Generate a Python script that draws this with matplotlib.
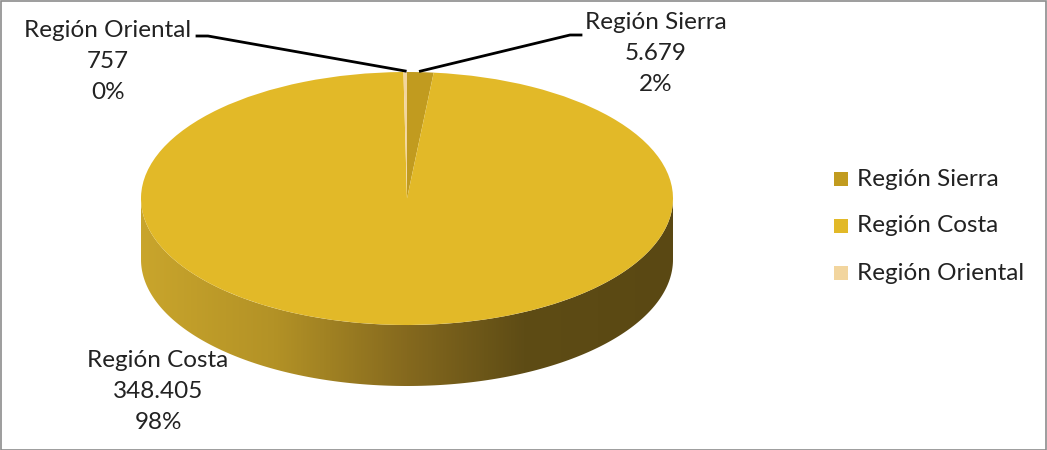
import matplotlib
matplotlib.use("Agg")
import matplotlib.pyplot as plt
import numpy as np
from matplotlib.patches import PathPatch, Rectangle
from matplotlib.path import Path
from matplotlib.transforms import Affine2D
from matplotlib.colors import LinearSegmentedColormap

# datos por región
regiones = ['Región Sierra', 'Región Costa', 'Región Oriental']
valores = [5679, 348405, 757]
etiquetas_valor = ['5.679', '348.405', '757']
etiquetas_pct = ['2%', '98%', '0%']
colores = ['#c19b1f', '#e2b928', '#f2d59e']

plt.rcParams['font.family'] = ['Lato', 'DejaVu Sans']
FS = 17.5
TXT = '#222222'

W, H = 1047, 450
fig = plt.figure(figsize=(W / 100, H / 100), dpi=100)
ax = fig.add_axes([0, 0, 1, 1])

# geometría de la elipse (en píxeles, y hacia arriba)
cx, cy = 407, H - 198.5
rx, ry = 266, 126.5
depth = 61

# lateral frontal con degradado
t = np.linspace(np.pi, 2 * np.pi, 200)
top = np.column_stack([cx + rx * np.cos(t), cy + ry * np.sin(t)])
bot = np.column_stack([cx + rx * np.cos(t[::-1]), cy - depth + ry * np.sin(t[::-1])])
verts = np.vstack([top, bot, top[:1]])
codes = [Path.MOVETO] + [Path.LINETO] * (len(verts) - 2) + [Path.CLOSEPOLY]
side = PathPatch(Path(verts, codes), facecolor='none', edgecolor='none')
ax.add_patch(side)

cmap = LinearSegmentedColormap.from_list('lado', [
    (0.0, '#c9a52c'), (0.25, '#b39226'), (0.5, '#85691e'),
    (0.72, '#5e4c15'), (1.0, '#5a4813')])
grad = np.linspace(0, 1, 512).reshape(1, -1)
im = ax.imshow(grad, cmap=cmap, aspect='auto',
               extent=(cx - rx, cx + rx, cy - ry - depth, cy), zorder=1)
im.set_clip_path(side)

# cara superior: pie escalado a elipse
wedges, _ = ax.pie(valores, colors=colores, startangle=90, counterclock=False,
                   radius=1, center=(0, 0), wedgeprops=dict(linewidth=0))
tr = Affine2D().scale(rx, ry).translate(cx, cy) + ax.transData
for w in wedges:
    w.set_transform(tr)
    w.set_zorder(2)

ax.set_aspect('auto')
ax.set_xlim(0, W)
ax.set_ylim(0, H)
ax.axis('off')

# ángulo medio de cada porción (en sentido horario desde arriba)
total = sum(valores)
acum = np.cumsum([0] + valores[:-1])
medios = [90 - 360 * (a + v / 2) / total for a, v in zip(acum, valores)]

def borde(ang):
    r = np.deg2rad(ang)
    return cx + rx * np.cos(r), cy + ry * np.sin(r)

def etiqueta(i, x, y_img):
    ax.text(x, H - y_img, f'{regiones[i]}\n{etiquetas_valor[i]}\n{etiquetas_pct[i]}',
            ha='center', va='top', fontsize=FS, color=TXT, linespacing=1.6)

etiqueta(2, 108, 20)
etiqueta(0, 656, 12)
etiqueta(1, 158, 350)

# líneas guía
px, py = borde(medios[2])
ax.plot([197, 208, px], [H - 36, H - 36, py + 1], color='black', lw=2, zorder=3)
px, py = borde(medios[0])
ax.plot([581, 570, px], [H - 35, H - 35, py + 1], color='black', lw=2, zorder=3)

# leyenda
for i, y_img in enumerate([179, 226, 273]):
    ax.add_patch(Rectangle((834, H - y_img - 7), 14, 14, facecolor=colores[i],
                           edgecolor='none'))
    ax.text(857, H - y_img, regiones[i], ha='left', va='center', fontsize=FS, color=TXT)

# borde del área del gráfico
fig.patches.append(Rectangle((0.5, 0.5), W - 1.5, H - 1.5, transform=None,
                             fill=False, edgecolor='#8c8c8c', lw=1.2))

fig.savefig('out.png', dpi=100)
